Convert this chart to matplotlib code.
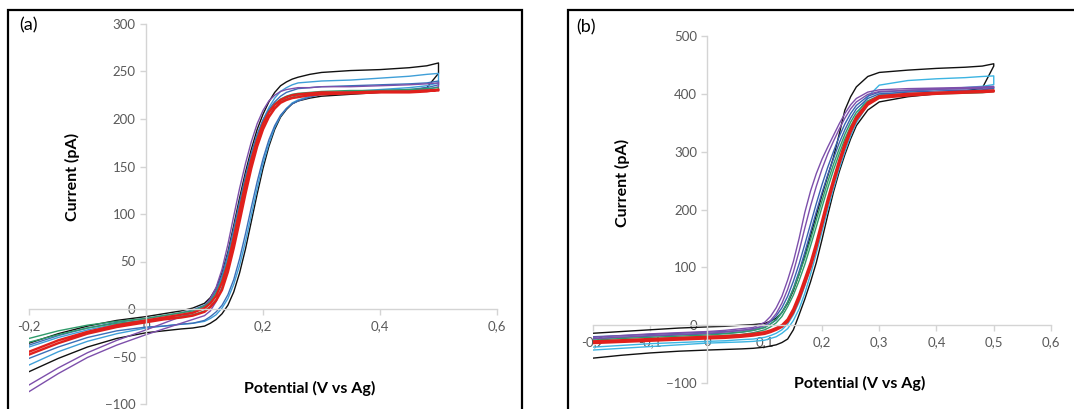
import matplotlib.pyplot as plt
from matplotlib.patches import Rectangle

plt.rcParams['font.family'] = ['Lato', 'DejaVu Sans']

# potential grid (V vs Ag), shared by every sweep
potential = [-0.2, -0.15, -0.1, -0.05, 0.0, 0.03, 0.06, 0.08, 0.1, 0.11, 0.12, 0.13, 0.14, 0.15, 0.16,
             0.17, 0.18, 0.19, 0.2, 0.21, 0.22, 0.23, 0.24, 0.25, 0.26, 0.28, 0.3, 0.35, 0.4, 0.45, 0.48, 0.5]

# panel (a) currents (pA): "up" branch and "down" branch of each loop
a_black_up = [-36, -26, -18, -12, -8, -5, -2, 1, 6, 12, 22, 38, 60, 88, 117, 144, 168, 189, 205, 218, 228, 235, 239, 242, 244, 247, 249, 251, 252, 254, 256, 259]
a_black_dn = [-66, -52, -40, -31, -25, -23, -21, -20, -18, -15, -11, -5, 4, 18, 38, 63, 92, 121, 148, 171, 189, 202, 210, 216, 219, 222, 224, 226, 228, 230, 233, 248]
a_lblue_up = [-40, -30, -22, -16, -12, -9, -6, -3, 2, 8, 18, 33, 54, 80, 108, 136, 161, 182, 199, 212, 222, 229, 233, 236, 238, 239, 240, 241, 243, 245, 247, 248]
a_lblue_dn = [-59, -45, -34, -26, -20, -18, -16, -15, -13, -10, -6, 1, 11, 26, 46, 71, 99, 127, 153, 174, 191, 203, 211, 217, 220, 224, 227, 229, 231, 233, 235, 238]
a_blue_up = [-38, -28, -20, -14, -10, -7, -4, -1, 4, 10, 20, 36, 58, 85, 113, 140, 164, 184, 199, 210, 218, 224, 228, 230, 232, 233, 234, 235, 236, 237, 238, 240]
a_blue_dn = [-52, -40, -30, -23, -19, -18, -16, -15, -12, -8, -3, 4, 15, 31, 53, 79, 107, 134, 158, 178, 193, 204, 211, 216, 219, 223, 226, 228, 230, 231, 233, 236]
a_purple_up = [-80, -62, -46, -33, -22, -15, -8, -4, 3, 11, 23, 42, 68, 98, 127, 153, 176, 195, 209, 219, 225, 229, 231, 232, 233, 233, 234, 234, 235, 236, 237, 238]
a_purple_dn = [-87, -68, -51, -38, -27, -21, -15, -11, -7, -2, 8, 23, 45, 72, 102, 130, 156, 178, 195, 207, 215, 220, 223, 225, 226, 227, 227, 228, 229, 230, 231, 234]
a_green_up = [-31, -23, -17, -13, -10, -7, -4, -2, 3, 8, 17, 31, 51, 78, 107, 135, 159, 180, 196, 208, 216, 221, 224, 226, 227, 228, 229, 230, 230, 231, 232, 233]
a_green_dn = [-35, -27, -20, -15, -12, -10, -8, -6, -2, 3, 10, 22, 41, 66, 95, 124, 150, 172, 190, 203, 212, 218, 221, 223, 225, 226, 227, 228, 229, 229, 230, 231]
a_red_up = [-45, -33, -24, -17, -12, -9, -6, -4, 1, 6, 14, 28, 48, 75, 104, 132, 157, 178, 195, 207, 215, 220, 223, 225, 226, 227, 228, 228, 229, 229, 230, 230]
a_red_dn = [-48, -36, -26, -19, -14, -11, -9, -7, -3, 2, 9, 20, 39, 64, 92, 121, 148, 171, 189, 202, 211, 217, 220, 222, 223, 225, 226, 227, 228, 228, 229, 231]

# panel (b) currents (pA)
b_black_up = [-14, -11, -8, -5, -3, -2, 0, 1, 3, 7, 12, 22, 38, 60, 88, 120, 155, 190, 225, 258, 290, 330, 372, 395, 412, 430, 437, 441, 444, 446, 448, 452]
b_black_dn = [-57, -52, -48, -45, -43, -42, -41, -40, -38, -36, -34, -30, -24, -8, 18, 45, 75, 108, 148, 190, 230, 265, 295, 322, 345, 372, 386, 395, 400, 405, 410, 448]
b_cyan_up = [-38, -35, -32, -30, -28, -27, -25, -24, -21, -18, -14, -8, 2, 18, 40, 68, 100, 136, 174, 212, 248, 282, 312, 340, 362, 395, 415, 423, 426, 428, 430, 431]
b_cyan_dn = [-43, -40, -37, -34, -31, -30, -29, -28, -26, -23, -20, -14, -6, 8, 28, 55, 88, 124, 162, 200, 236, 270, 300, 327, 350, 382, 398, 404, 408, 411, 413, 416]
b_blue_up = [-20, -18, -16, -14, -12, -11, -9, -6, -1, 6, 16, 30, 50, 76, 106, 140, 175, 210, 243, 273, 300, 326, 348, 366, 380, 396, 403, 406, 408, 409, 410, 411]
b_blue_dn = [-23, -21, -19, -17, -15, -14, -12, -9, -4, 2, 9, 22, 40, 64, 93, 126, 161, 196, 229, 260, 288, 315, 338, 358, 374, 392, 400, 403, 405, 406, 407, 409]
b_purple_up = [-21, -18, -15, -13, -11, -9, -6, -4, 5, 15, 30, 50, 78, 110, 150, 195, 232, 262, 287, 308, 328, 348, 366, 381, 392, 403, 407, 409, 410, 411, 412, 413]
b_purple_dn = [-24, -21, -18, -16, -14, -12, -9, -7, 0, 8, 20, 38, 62, 92, 128, 168, 206, 240, 270, 296, 318, 339, 358, 374, 386, 399, 404, 406, 408, 409, 410, 411]
b_green_up = [-26, -23, -21, -19, -17, -15, -12, -9, -4, 2, 10, 22, 40, 62, 88, 116, 148, 182, 215, 248, 278, 305, 330, 351, 368, 388, 397, 400, 402, 403, 404, 406]
b_green_dn = [-30, -27, -24, -22, -20, -18, -16, -13, -8, -3, 4, 15, 32, 52, 77, 105, 137, 170, 204, 237, 268, 296, 322, 344, 362, 384, 394, 398, 400, 401, 402, 404]
b_red_up = [-28, -26, -24, -22, -20, -19, -17, -15, -12, -9, -5, 0, 10, 28, 52, 80, 108, 142, 180, 218, 252, 285, 315, 340, 360, 385, 396, 400, 402, 404, 405, 406]
b_red_dn = [-31, -29, -27, -25, -23, -22, -20, -18, -15, -12, -8, -3, 6, 22, 45, 72, 100, 134, 172, 210, 245, 278, 308, 334, 355, 381, 393, 397, 400, 402, 403, 404]

a_xticks = [-0.2, 0.0, 0.2, 0.4, 0.6]
a_xlabels = ['-0,2', '0', '0,2', '0,4', '0,6']
a_yticks = [-100, -50, 0, 50, 100, 150, 200, 250, 300]
b_xticks = [-0.2, -0.1, 0.0, 0.1, 0.2, 0.3, 0.4, 0.5, 0.6]
b_xlabels = ['-0,2', '-0,1', '0', '0,1', '0,2', '0,3', '0,4', '0,5', '0,6']
b_yticks = [-100, 0, 100, 200, 300, 400, 500]

W, H = 1074, 409


def px_box(x0, y0, x1, y1):
    # pixel box (top-left origin) -> figure fraction [l, b, w, h]
    return [x0 / W, 1 - y1 / H, (x1 - x0) / W, (y1 - y0) / H]


def draw_loop(ax, up, down, color, lw=1.0):
    xs = potential + potential[::-1]
    ys = up + down[::-1]
    ax.plot(xs, ys, color=color, lw=lw, solid_joinstyle='round')


def style_axes(ax, ylim, xticks, xlabels, yticks):
    ax.set_xlim(-0.2, 0.6)
    ax.set_ylim(*ylim)
    for side in ('top', 'right'):
        ax.spines[side].set_visible(False)
    ax.spines['left'].set_position(('data', 0))
    ax.spines['bottom'].set_position(('data', 0))
    for side in ('left', 'bottom'):
        ax.spines[side].set_color('#d4d4d4')
        ax.spines[side].set_linewidth(1.0)
    ax.set_xticks(xticks)
    ax.set_xticklabels(xlabels)
    ax.set_yticks(yticks)
    ax.tick_params(colors='#d4d4d4', labelcolor='#595959', labelsize=9.5, length=4, width=1)
    ax.tick_params(axis='x', pad=4)
    ax.patch.set_alpha(0)


fig = plt.figure(figsize=(W / 100, H / 100), dpi=100)

# panel frames
fig.patches.append(Rectangle((8 / W, -0.1), (522 - 8) / W, 1.1 - 10 / H, transform=fig.transFigure,
                             fill=False, ec='black', lw=1.6))
fig.patches.append(Rectangle((568 / W, -0.1), 0.6, 1.1 - 10 / H, transform=fig.transFigure,
                             fill=False, ec='black', lw=1.6))

ax1 = fig.add_axes(px_box(29, 24, 497, 404))
style_axes(ax1, (-100, 300), a_xticks, a_xlabels, a_yticks)
draw_loop(ax1, a_black_up, a_black_dn, '#111111')
draw_loop(ax1, a_lblue_up, a_lblue_dn, '#3f9fd8')
draw_loop(ax1, a_blue_up, a_blue_dn, '#3a6fb8')
draw_loop(ax1, a_purple_up, a_purple_dn, '#7d4fab')
draw_loop(ax1, a_green_up, a_green_dn, '#2f9b6a')
draw_loop(ax1, a_red_up, a_red_dn, '#e0201c', lw=1.7)

ax2 = fig.add_axes(px_box(593, 36, 1051, 383))
style_axes(ax2, (-100, 500), b_xticks, b_xlabels, b_yticks)
draw_loop(ax2, b_black_up, b_black_dn, '#111111')
draw_loop(ax2, b_cyan_up, b_cyan_dn, '#3cb4e2')
draw_loop(ax2, b_blue_up, b_blue_dn, '#3a62b0')
draw_loop(ax2, b_purple_up, b_purple_dn, '#7d4fab')
draw_loop(ax2, b_green_up, b_green_dn, '#2f9b6a')
draw_loop(ax2, b_red_up, b_red_dn, '#e0201c', lw=1.7)

# panel letters and axis titles
fig.text(19 / W, 1 - 25 / H, '(a)', fontsize=13, va='center', ha='left')
fig.text(576 / W, 1 - 27 / H, '(b)', fontsize=13, va='center', ha='left')
fig.text(72 / W, 1 - 177 / H, 'Current (pA)', rotation=90, fontsize=11.5, fontweight='bold',
         ha='center', va='center')
fig.text(622 / W, 1 - 183 / H, 'Current (pA)', rotation=90, fontsize=11.5, fontweight='bold',
         ha='center', va='center')
fig.text(310 / W, 1 - 388 / H, 'Potential (V vs Ag)', fontsize=11.5, fontweight='bold',
         ha='center', va='center')
fig.text(860 / W, 1 - 383 / H, 'Potential (V vs Ag)', fontsize=11.5, fontweight='bold',
         ha='center', va='center')

fig.savefig('out.png', dpi=100)
